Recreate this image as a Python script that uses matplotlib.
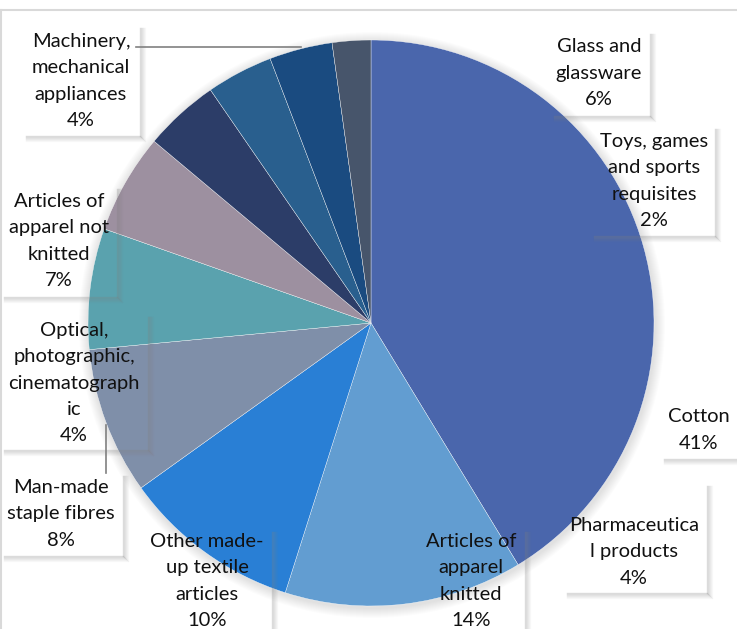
import matplotlib.pyplot as plt
from matplotlib.patches import Circle

W, H = 737, 629

categories = ['Cotton', 'Articles of apparel knitted', 'Other made-up textile articles',
              'Man-made staple fibres', 'Articles of apparel not knitted', 'Glass and glassware',
              'Pharmaceutical products', 'Optical, photographic, cinematographic',
              'Machinery, mechanical appliances', 'Toys, games and sports requisites']
values = [41.3, 13.6, 10.2, 8.4, 6.9, 5.7, 4.3, 3.8, 3.6, 2.2]
colors = ['#4A66AC', '#629DD1', '#297FD5', '#7F8FA9', '#5AA2AE', '#9D90A0',
          '#2C3D68', '#295F8E', '#1A4B80', '#47556B']

# label text as wrapped in the original boxes
label_text = ['Cotton', 'Articles of\napparel\nknitted', 'Other made-\nup textile\narticles',
              'Man-made\nstaple fibres', 'Articles of\napparel not\nknitted', 'Glass and\nglassware',
              'Pharmaceutica\nl products', 'Optical,\nphotographic,\ncinematograph\nic',
              'Machinery,\nmechanical\nappliances', 'Toys, games\nand sports\nrequisites']

# layout in pixels (x0, y0, x1, y1 of box; text centre x; first line y)
boxes = [(660, 398, 740, 459, 699, 417),
         (415, 528, 525, 640, 471, 542),
         (140, 528, 272, 640, 207, 542),
         (0, 472, 123, 556, 61, 488),
         (0, 185, 117, 297, 59, 202),
         (550, 30, 650, 116, 599, 47),
         (563, 482, 707, 593, 634, 526),
         (0, 313, 148, 450, 74, 331),
         (22, 24, 140, 136, 81, 42),
         (590, 125, 715, 236, 654, 142)]

fs = 14.5
gap = 26.0
lsp = 1.67

fig = plt.figure(figsize=(W / 100, H / 100), dpi=100)
ax = fig.add_axes([0, 0, 1, 1])

cx, cy, r = 371, H - 323, 283

# soft shadow round the pie
for k in range(10):
    ax.add_patch(Circle((cx + 1, cy - 2), r + 10 - k, color='#000000', alpha=0.012, lw=0, zorder=0))

total = sum(values)
ax.pie(values, colors=colors, startangle=90, counterclock=False, center=(cx, cy), radius=r,
       wedgeprops=dict(edgecolor='#ffffff', linewidth=0.25), frame=True)
ax.set_xlim(0, W)
ax.set_ylim(0, H)
ax.set_aspect('equal')
ax.axis('off')

for txt, v, b in zip(label_text, values, boxes):
    x0, y0, x1, y1, tx, ty = b
    s = txt + '\n' + '%d%%' % round(v / total * 100)
    n = s.count('\n') + 1
    yc = ty + gap * (n - 1) / 2
    ax.text(tx, H - yc, s, ha='center', va='center', multialignment='center',
            fontsize=fs, family=['Lato', 'DejaVu Sans'], color='#111111', linespacing=lsp, zorder=5)
    # drop shadow on right and bottom edges of the box
    for k in range(6):
        a = 0.25 * (1 - k / 6)
        ax.plot([x1 + k, x1 + k], [H - y0 - 4, H - y1 - k], color='grey', alpha=a, lw=1, zorder=4)
        ax.plot([x0 + 4, x1 + k], [H - y1 - k, H - y1 - k], color='grey', alpha=a, lw=1, zorder=4)

# leader lines
ax.plot([136, 301], [H - 47, H - 47], color='#808080', lw=1.2, zorder=4)
ax.plot([106, 106], [H - 425, H - 473], color='#808080', lw=1.2, zorder=4)

# chart border
ax.plot([0, W], [H - 10, H - 10], color='#d9d9d9', lw=1.5)
ax.plot([1, 1], [H - 10, 0], color='#d9d9d9', lw=1.5)

plt.savefig('out.png', dpi=100)
